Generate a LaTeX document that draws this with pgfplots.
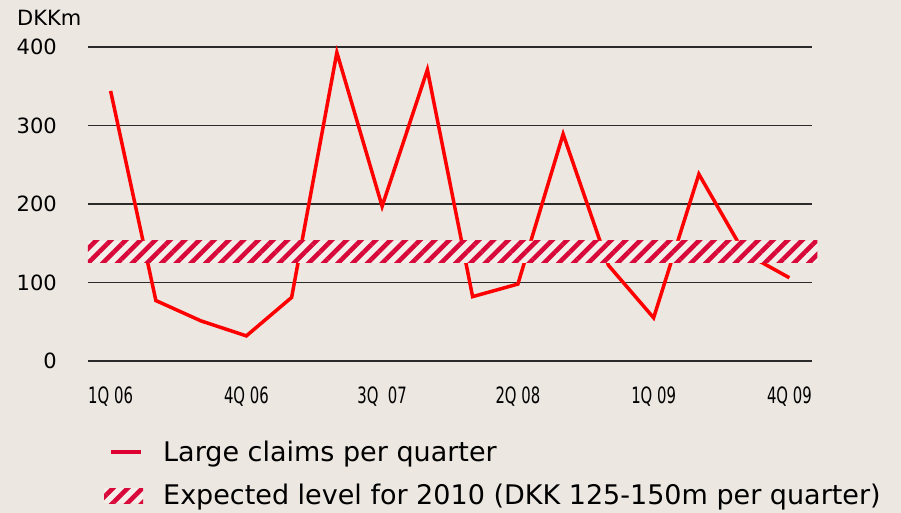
\documentclass[border=0pt]{standalone}
\usepackage{pgfplots}
\pgfplotsset{compat=1.18}
\usepackage{fontspec}
\setmainfont{DejaVu Sans}
\usepackage{graphicx}
\usetikzlibrary{patterns.meta}
\definecolor{bgbeige}{HTML}{ECE7E0}
\definecolor{bandlight}{HTML}{F3EEE9}
\definecolor{claimred}{HTML}{FF0000}
\definecolor{legred}{HTML}{DD0030}
\definecolor{bandred}{HTML}{D8093A}
\definecolor{gridgray}{HTML}{2B2B2B}
\newcommand{\qlab}[1]{\scalebox{0.66}[1]{#1}}
\tikzset{bandfill/.style={fill=bandlight,postaction={pattern={Lines[angle=45,distance=10.4pt,line width=4.6pt]},pattern color=bandred}}}

\begin{document}
\begin{tikzpicture}
\fill[bgbeige] (-88pt,-152pt) rectangle (813pt,361pt);
\useasboundingbox (-88pt,-152pt) rectangle (813pt,361pt);
\begin{axis}[
  scale only axis,
  width=724pt, height=314pt,
  at={(0,0)}, anchor=south west,
  xmin=-0.5, xmax=15.5,
  ymin=0, ymax=400,
  clip=false,
  axis line style={draw=none},
  major tick length=0pt,
  ymajorgrids,
  major grid style={gridgray,line width=1.1pt},
  ytick={0,100,200,300,400},
  xtick={0,3,6,9,12,15},
  xticklabels={\qlab{1Q 06},\qlab{4Q 06},\qlab{3Q\ \ 07},\qlab{2Q 08},\qlab{1Q 09},\qlab{4Q 09}},
  /pgf/number format/assume math mode=true,
  yticklabel style={font=\fontsize{21}{25}\selectfont,anchor=east,inner sep=0pt,xshift=-31pt},
  xticklabel style={font=\fontsize{22.5}{26}\selectfont,anchor=north,inner sep=0pt,yshift=-26pt},
  legend style={at={(axis description cs:0,0)},anchor=north west,xshift=13pt,yshift=-78pt,
    draw=none,fill=none,font=\fontsize{27}{32}\selectfont,
    nodes={inner sep=0pt},row sep=21pt,
    /tikz/every odd column/.append style={column sep=20pt}},
  legend cell align=left,
]
\addplot[claimred,line width=3.5pt,line join=miter,forget plot] coordinates {
  (0,344) (1,77) (2,51) (3,32) (4,81) (5,393) (6,197) (7,371)
  (8,82) (9,98) (10,289) (11,122) (12,55) (13,238) (14,138) (15,106)};
\addplot[draw=none,bandfill,forget plot] coordinates {
  (-0.5,125) (15.62,125) (15.62,153) (-0.5,153) (-0.5,125)};
\addlegendimage{draw=none,fill=none,legend image code/.code={
  \path[draw=none,fill=none] (0pt,-8pt) rectangle (39pt,8pt);
  \fill[legred] (7pt,-2.2pt) rectangle (37pt,2.2pt);}}
\addlegendentry{Large claims per quarter}
\addlegendimage{draw=none,fill=none,legend image code/.code={
  \path[draw=none,fill=none] (0pt,-8pt) rectangle (39pt,8pt);
  \path[bandfill] (0pt,-8pt) rectangle (39pt,7pt);}}
\addlegendentry{Expected level for 2010 (DKK 125-150m per quarter)}
\node[anchor=base west,inner sep=0pt,font=\fontsize{21}{25}\selectfont,xshift=-71pt,yshift=21.5pt]
  at (axis description cs:0,1) {DKKm};
\end{axis}
\end{tikzpicture}
\end{document}
